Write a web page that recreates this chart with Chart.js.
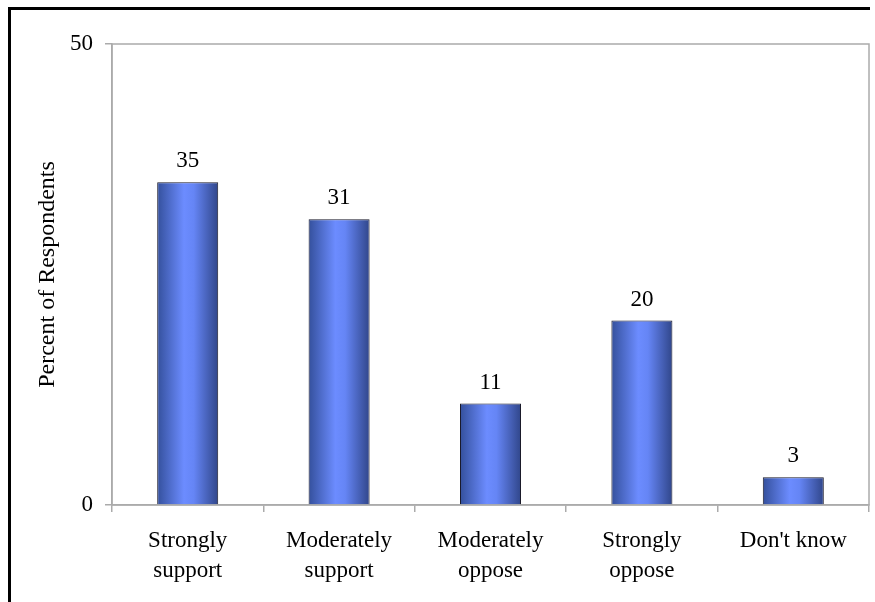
<!DOCTYPE html>
<html>
<head>
<meta charset="utf-8">
<script src="https://cdn.jsdelivr.net/npm/chart.js@4.4.0/dist/chart.umd.min.js"></script>
<style>
html,body{margin:0;padding:0;background:#fff;}
#wrap{width:875px;height:602px;position:relative;}
</style>
</head>
<body>
<div id="wrap"><canvas id="c" width="875" height="602"></canvas></div>
<script>
const categories = [["Strongly","support"],["Moderately","support"],["Moderately","oppose"],["Strongly","oppose"],"Don't know"];
const percentValues = [35, 31, 11, 20, 3];
const yTickValues = [0, 50];
const yAxisTitle = "Percent of Respondents";

const FONT = "'Liberation Serif', 'DejaVu Serif', serif";
const BAR_PCT = 0.403;

function barGradient(context) {
  const chart = context.chart;
  const xs = chart.scales && chart.scales.x;
  if (!chart.chartArea || !xs) return '#5a78e0';
  const i = context.dataIndex;
  const w = (xs.width / categories.length) * BAR_PCT;
  const cx = xs.getPixelForValue(i);
  const g = chart.ctx.createLinearGradient(cx - w / 2, 0, cx + w / 2, 0);
  g.addColorStop(0, '#34509c');
  g.addColorStop(0.44, '#6c8cff');
  g.addColorStop(0.6, '#6585f5');
  g.addColorStop(1, '#30468a');
  return g;
}

const framePlugin = {
  id: 'frame',
  beforeDraw(chart) {
    const ctx = chart.ctx;
    ctx.save();
    ctx.fillStyle = '#fff';
    ctx.fillRect(0, 0, chart.width, chart.height);
    ctx.strokeStyle = '#000';
    ctx.lineWidth = 3;
    ctx.beginPath();
    ctx.moveTo(9.5, 602);
    ctx.lineTo(9.5, 8.5);
    ctx.lineTo(870, 8.5);
    ctx.stroke();
    ctx.restore();
  },
  beforeDatasetsDraw(chart) {
    const ctx = chart.ctx;
    const a = chart.chartArea;
    ctx.save();
    ctx.strokeStyle = '#ababab';
    ctx.lineWidth = 1.5;
    ctx.strokeRect(a.left, a.top, a.right - a.left, a.bottom - a.top);
    ctx.restore();
  },
  afterDatasetsDraw(chart) {
    const ctx = chart.ctx;
    const meta = chart.getDatasetMeta(0);
    ctx.save();
    ctx.fillStyle = '#000';
    ctx.font = "23px " + FONT;
    ctx.textAlign = 'center';
    ctx.textBaseline = 'alphabetic';
    meta.data.forEach((el, i) => {
      ctx.fillText(String(percentValues[i]), el.x, el.y - 15);
    });
    ctx.restore();
  }
};

new Chart(document.getElementById('c'), {
  type: 'bar',
  data: {
    labels: categories,
    datasets: [{
      data: percentValues,
      backgroundColor: barGradient,
      borderColor: '#1a1a2a',
      borderWidth: 1,
      categoryPercentage: 1.0,
      barPercentage: BAR_PCT
    }]
  },
  options: {
    responsive: false,
    animation: false,
    devicePixelRatio: 1,
    layout: { padding: { left: 10, top: 44, right: 6, bottom: 0 } },
    plugins: { legend: { display: false }, tooltip: { enabled: false } },
    scales: {
      x: {
        grid: { display: true, drawOnChartArea: false, drawTicks: true, tickLength: 7, color: '#ababab', lineWidth: 1.5, offset: true },
        border: { display: true, color: '#ababab', width: 1.5 },
        ticks: { color: '#000', font: { family: FONT, size: 23, lineHeight: 1.3 }, padding: 14, maxRotation: 0, autoSkip: false },
        afterFit(s) { s.height = 97; }
      },
      y: {
        min: 0, max: 50,
        afterBuildTicks(s) { s.ticks = yTickValues.map(v => ({ value: v })); },
        grid: { display: true, drawOnChartArea: false, drawTicks: true, tickLength: 7, color: '#ababab', lineWidth: 1.5 },
        border: { display: true, color: '#ababab', width: 1.5 },
        ticks: { color: '#000', font: { family: FONT, size: 23 }, padding: 12 },
        title: { display: true, text: yAxisTitle, color: '#000', font: { family: FONT, size: 24 }, padding: { top: 23, bottom: 0 } },
        afterFit(s) { s.width = 102; }
      }
    }
  },
  plugins: [framePlugin]
});
</script>
</body>
</html>
